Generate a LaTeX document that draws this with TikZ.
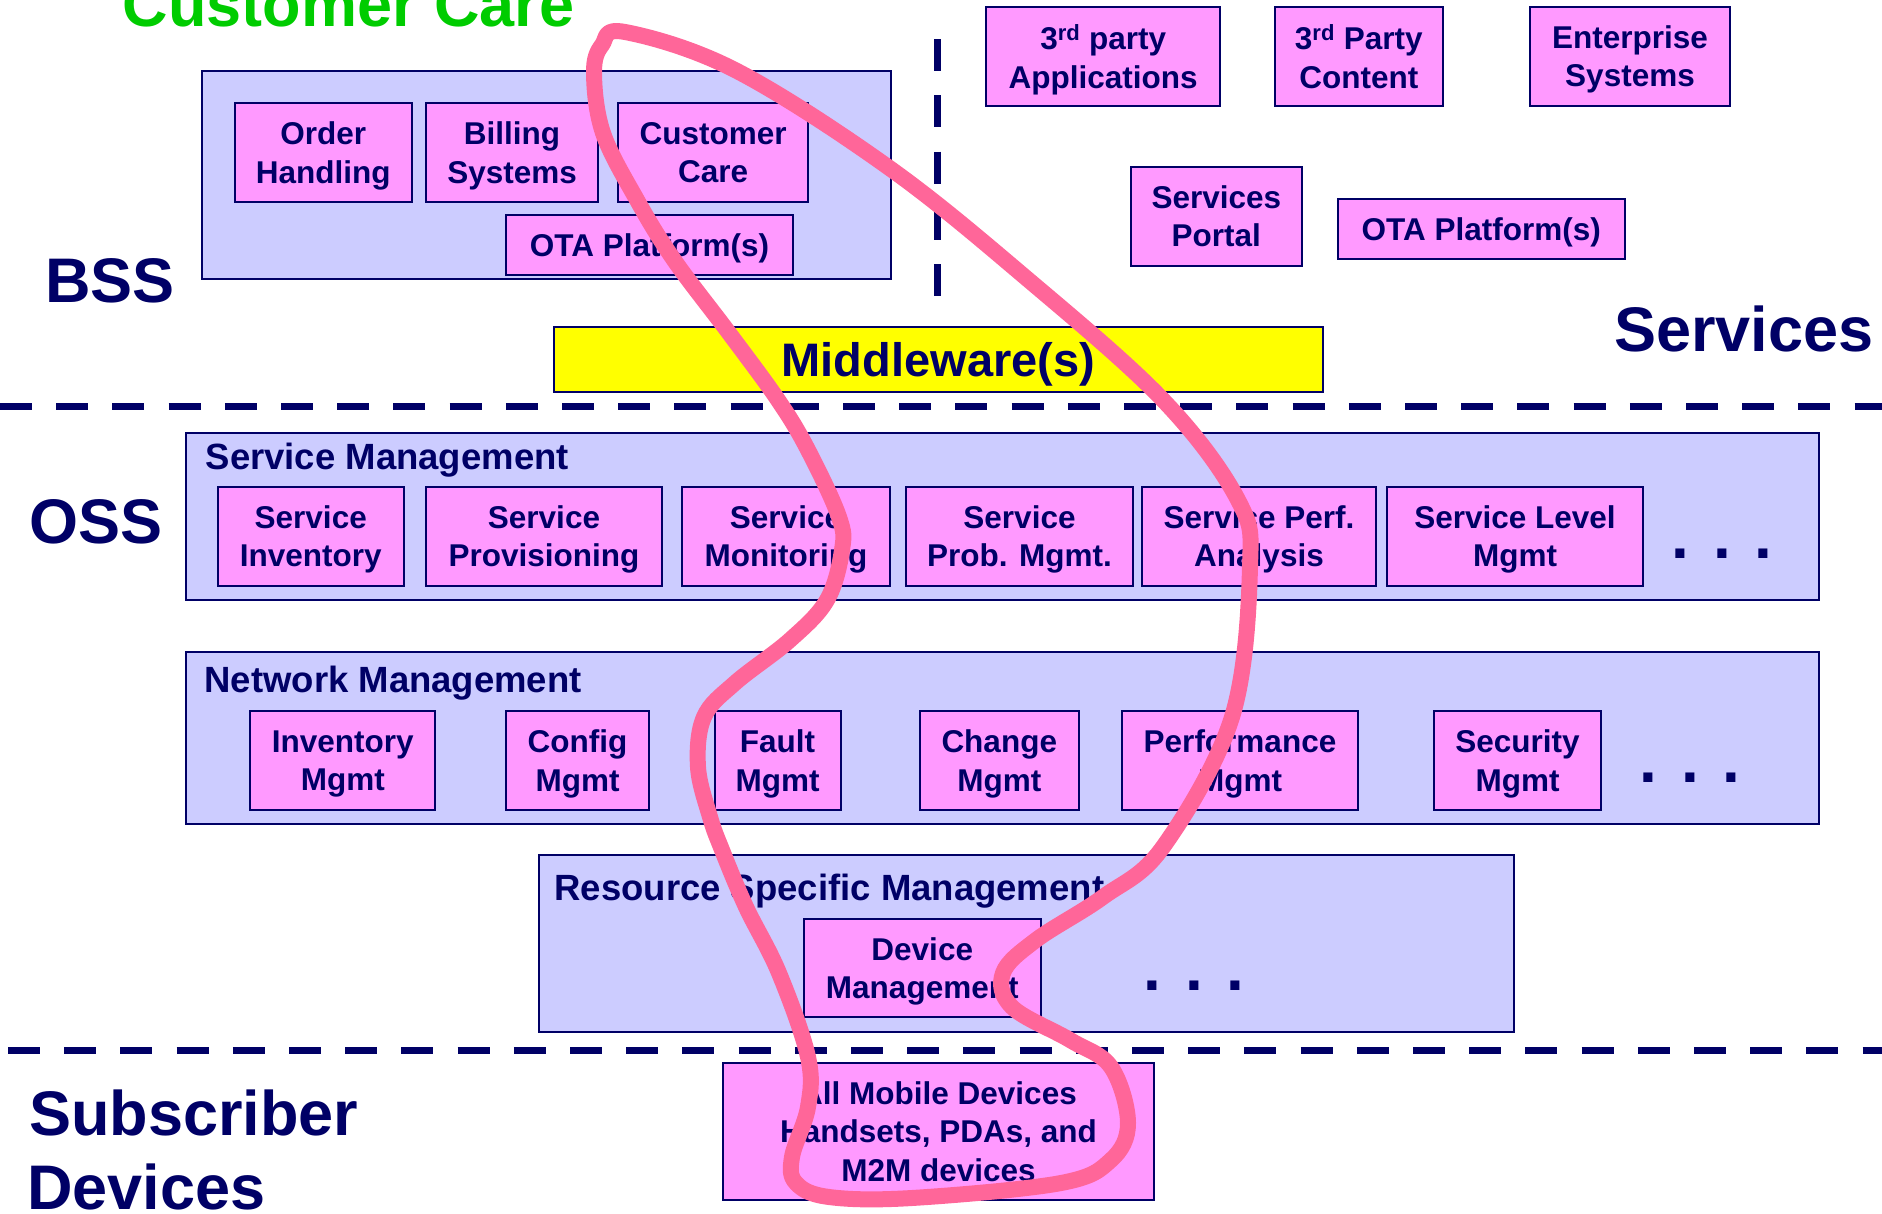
\documentclass[tikz,border=0pt]{standalone}
\usepackage{fontspec}
\setmainfont{Liberation Sans}
\usetikzlibrary{positioning}

\definecolor{navy}{HTML}{000066}
\definecolor{pinkbox}{HTML}{FF99FF}
\definecolor{lilac}{HTML}{CCCCFF}
\definecolor{mwyellow}{HTML}{FFFF00}
\definecolor{ccgreen}{HTML}{00CC00}
\definecolor{loopred}{HTML}{FF6699}

\tikzset{
  layer/.style={draw=navy, line width=2pt, fill=lilac, inner sep=0pt, outer sep=0pt},
  blk/.style={draw=navy, line width=2pt, fill=pinkbox, inner sep=0pt, outer sep=0pt, minimum height=99pt,
    align=center, text=navy, text depth=0pt, font=\fontsize{31.5}{38.5}\selectfont\bfseries},
  ttl/.style={anchor=base west, inner sep=0pt, text=navy, font=\fontsize{36.5}{44}\selectfont\bfseries},
  big/.style={anchor=base west, inner sep=0pt, text=navy, font=\fontsize{63}{76}\selectfont\bfseries},
  more/.style={anchor=base, inner sep=0pt, text=navy, font=\fontsize{64}{70}\selectfont\bfseries},
  split/.style={navy, line width=7pt, dash pattern=on 32pt off 24.2pt},
}

\begin{document}
\begin{tikzpicture}[x=1pt, y=-1pt]
\useasboundingbox (0,0) rectangle (1882,1214);

% BSS
\node (bss) [layer, minimum width=689pt, minimum height=208pt] at (546.5,175) {};
\node (ordh) [blk, minimum width=177.5pt] at (323.3,152.5) {Order\\Handling};
\node (bill) [blk, minimum width=172pt, right=14pt of ordh] {Billing\\Systems};
\node (care) [blk, minimum width=190pt, right=20pt of bill] {Customer\\Care};
\node (otab) [blk, minimum width=287pt, minimum height=60pt] at (649.5,245) {OTA Platform(s)};

% services side
\node (apps) [blk, minimum width=233.6pt] at (1103.2,56.3) {3\textsuperscript{rd} party\\Applications};
\node (cont) [blk, minimum width=168.5pt, right=54.5pt of apps] {3\textsuperscript{rd} Party\\Content};
\node (ent) [blk, minimum width=200pt, right=87pt of cont] {Enterprise\\Systems};
\node (portal) [blk, minimum width=171.5pt] at (1216.3,216.2) {Services\\Portal};
\node (otas) [blk, minimum width=286.6pt, minimum height=60pt] at (1481.3,229) {OTA Platform(s)};

\node (mw) [blk, fill=mwyellow, minimum width=768.7pt, minimum height=65pt,
  font=\fontsize{47}{56}\selectfont\bfseries] at (938.3,359.5) {Middleware(s)};

% big labels
\node (cclbl) [big, text=ccgreen] at (122.5,26.7) {Customer Care};
\node (bsslbl) [big] at (45,303) {BSS};
\node (servlbl) [big] at (1614,351.7) {Services};
\node (osslbl) [big] at (29.5,543.3) {OSS};
\node (sublbl) [big] at (29,1135) {Subscriber};
\node (devlbl) [big] at (27,1209) {Devices};

% service management
\node (sm) [layer, minimum width=1633pt, minimum height=167pt] at (1002.5,516.5) {};
\node (smttl) [ttl] at (205.5,469.3) {Service Management};
\node (sinv) [blk, minimum width=185.5pt] at (310.75,536.3) {Service\\Inventory};
\node (sprov) [blk, minimum width=236pt, right=22.5pt of sinv] {Service\\Provisioning};
\node (smon) [blk, minimum width=208pt, right=20pt of sprov] {Service\\Monitoring};
\node (sprob) [blk, minimum width=227pt, right=16pt of smon] {Service\\Prob. Mgmt.};
\node (sperf) [blk, minimum width=234pt, right=9pt of sprob] {Service Perf.\\Analysis};
\node (slev) [blk, minimum width=256pt, right=11pt of sperf] {Service Level\\Mgmt};
\node (smdots) [more] at (1722,558) {. . .};

% network management
\node (nm) [layer, minimum width=1633pt, minimum height=172pt] at (1002.5,738) {};
\node (nmttl) [ttl] at (204.3,692.7) {Network Management};
\node (invm) [blk, minimum width=184.9pt] at (342.85,760.5) {Inventory\\Mgmt};
\node (cfgm) [blk, minimum width=143pt, right=70.7pt of invm] {Config\\Mgmt};
\node (fltm) [blk, minimum width=126.1pt, right=65.5pt of cfgm] {Fault\\Mgmt};
\node (chgm) [blk, minimum width=158.5pt, right=79.4pt of fltm] {Change\\Mgmt};
\node (prfm) [blk, minimum width=236pt, right=43.5pt of chgm] {Performance\\Mgmt};
\node (secm) [blk, minimum width=167pt, right=76pt of prfm] {Security\\Mgmt};
\node (nmdots) [more] at (1690,782) {. . .};

% resource specific
\node (rsm) [layer, minimum width=974.6pt, minimum height=176.7pt] at (1026.3,943.35) {};
\node (rsmttl) [ttl] at (554.3,900.7) {Resource Specific Management};
\node (devm) [blk, minimum width=236.5pt, minimum height=98.3pt] at (922.25,968.15) {Device\\Management};
\node (rsmdots) [more] at (1194,990.7) {. . .};

\node (allmob) [blk, minimum width=431pt, minimum height=137pt] at (938.5,1131.5) {All Mobile Devices\\Handsets, PDAs, and\\M2M devices};

% dividers
\draw[split] (0,406.7) -- (1882,406.7);
\draw[split] (8,1050) -- (1882,1050);
\draw[split] (937,39.3) -- (937,296);

% hand drawn loop
\draw[loopred, line width=16pt, line join=round] plot[smooth cycle, tension=0.6] coordinates {
  (625,32) (735,70) (888,167) (1025,277) (1163,400) (1238,500) (1250,567) (1232,717)
  (1163,847) (1103,897) (1036,940) (1003,973) (1012,1007) (1070,1040) (1111,1067)
  (1128,1123) (1111,1160) (1061,1183) (912,1198) (829,1197) (796,1183) (792,1157)
  (808,1107) (808,1057) (779,973) (746,907) (722,850) (710,817) (698,767) (704,717)
  (735,683) (790,640) (827,600) (842,550) (839,517) (808,450) (778,400) (729,333)
  (674,260) (637,200) (603,133) (594,73) (602,45)};
\end{tikzpicture}
\end{document}
